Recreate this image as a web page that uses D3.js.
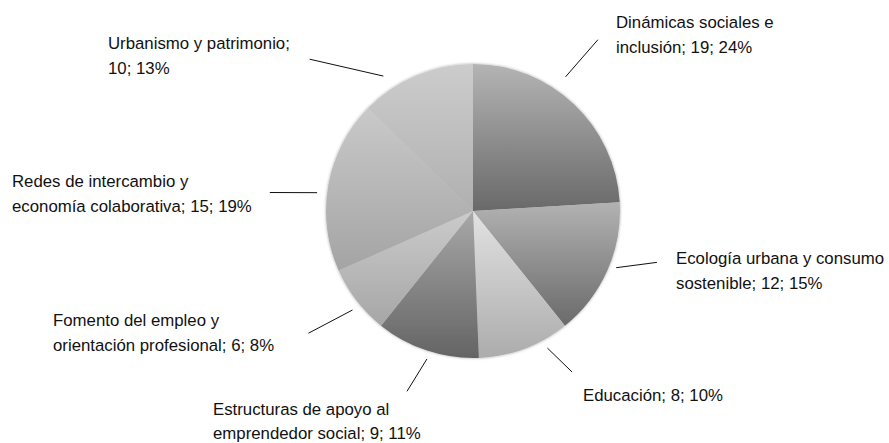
<!DOCTYPE html>
<html>
<head>
<meta charset="utf-8">
<script src="https://cdn.jsdelivr.net/npm/d3@7"></script>
<style>
  body { margin: 0; background: #fff; }
  svg text { font-family: "Liberation Sans", Arial, sans-serif; font-size: 16.8px; fill: #111; }
</style>
</head>
<body>
<div id="chart"></div>
<script>
// data
const categories = [
  'Dinámicas sociales e inclusión',
  'Ecología urbana y consumo sostenible',
  'Educación',
  'Estructuras de apoyo al emprendedor social',
  'Fomento del empleo y orientación profesional',
  'Redes de intercambio y economía colaborativa',
  'Urbanismo y patrimonio'
];
const counts = [19, 12, 8, 9, 6, 15, 10];
const percents = ['24%', '15%', '10%', '11%', '8%', '19%', '13%'];

// label text split into lines (as wrapped in the original)
const labelLines = [
  ['Dinámicas sociales e', 'inclusión; 19; 24%'],
  ['Ecología urbana y consumo', 'sostenible; 12; 15%'],
  ['Educación; 8; 10%'],
  ['Estructuras de apoyo al', 'emprendedor social; 9; 11%'],
  ['Fomento del empleo y', 'orientación profesional; 6; 8%'],
  ['Redes de intercambio y', 'economía colaborativa; 15; 19%'],
  ['Urbanismo y patrimonio;', '10; 13%']
];

// gradient colours per slice (top -> bottom)
const shades = [
  ['#b4b4b4', '#696969'],
  ['#b2b2b2', '#6a6a6a'],
  ['#e2e2e2', '#acacac'],
  ['#a8a8a8', '#646464'],
  ['#cbcbcb', '#a6a6a6'],
  ['#c9c9c9', '#a4a4a4'],
  ['#cccccc', '#b0b0b0']
];

// layout: label positions and leader lines (angle in degrees, radius from centre)
const labelPos = [
  { x: 616, y: 28, gap: 25 }, { x: 676, y: 264, gap: 25 }, { x: 583, y: 401, gap: 25 },
  { x: 213, y: 415, gap: 24 }, { x: 53, y: 326, gap: 25 }, { x: 12, y: 187, gap: 25 },
  { x: 108, y: 49, gap: 25 }
];
const leaders = [
  { a0: 34.6, r0: 163, a1: 36.1, r1: 212 },
  { a0: 111.6, r0: 154, a1: 105.6, r1: 191 },
  { a0: 151.5, r0: 156, a1: 148.4, r1: 189 },
  { a0: 197.3, r0: 155, a1: 200.1, r1: 192 },
  { a0: 230.6, r0: 156, a1: 233.4, r1: 205 },
  { a0: 276.7, r0: 157, a1: 275.2, r1: 204 },
  { a0: 326.4, r0: 162, a1: 312.9, r1: 223 }
];

const width = 889, height = 443;
const cx = 473, cy = 211, radius = 147;

const svg = d3.select('#chart').append('svg')
  .attr('width', width).attr('height', height);

const defs = svg.append('defs');
const shadow = defs.append('filter').attr('id', 'pie-shadow')
  .attr('x', '-10%').attr('y', '-10%').attr('width', '120%').attr('height', '120%');
shadow.append('feGaussianBlur').attr('in', 'SourceAlpha').attr('stdDeviation', 1.5).attr('result', 'b');
shadow.append('feComponentTransfer').attr('in', 'b').attr('result', 'b2')
  .append('feFuncA').attr('type', 'linear').attr('slope', 0.35);
const merge = shadow.append('feMerge');
merge.append('feMergeNode').attr('in', 'b2');
merge.append('feMergeNode').attr('in', 'SourceGraphic');

shades.forEach((s, i) => {
  const g = defs.append('linearGradient').attr('id', `grad-${i}`)
    .attr('x1', '0%').attr('y1', '0%').attr('x2', '0%').attr('y2', '100%');
  g.append('stop').attr('offset', '0%').attr('stop-color', s[0]);
  g.append('stop').attr('offset', '100%').attr('stop-color', s[1]);
});

const pie = d3.pie().sort(null).value(d => d);
const arcs = pie(counts);
const arc = d3.arc().innerRadius(0).outerRadius(radius);

const g = svg.append('g').attr('transform', `translate(${cx},${cy})`);

g.append('g').attr('filter', 'url(#pie-shadow)')
  .selectAll('path')
  .data(arcs)
  .join('path')
  .attr('d', arc)
  .attr('fill', (d, i) => `url(#grad-${i})`);

// leader lines
const rad = deg => deg * Math.PI / 180;
g.selectAll('line.leader')
  .data(leaders)
  .join('line')
  .attr('class', 'leader')
  .attr('x1', d => d3.pointRadial(rad(d.a0), d.r0)[0])
  .attr('y1', d => d3.pointRadial(rad(d.a0), d.r0)[1])
  .attr('x2', d => d3.pointRadial(rad(d.a1), d.r1)[0])
  .attr('y2', d => d3.pointRadial(rad(d.a1), d.r1)[1])
  .attr('stroke', '#111')
  .attr('stroke-width', 1);

// labels
const labels = svg.selectAll('text.lbl')
  .data(labelLines)
  .join('text')
  .attr('class', 'lbl')
  .attr('x', (d, i) => labelPos[i].x)
  .attr('y', (d, i) => labelPos[i].y);

labels.selectAll('tspan')
  .data((d, i) => d.map(t => ({ t, x: labelPos[i].x, gap: labelPos[i].gap })))
  .join('tspan')
  .attr('x', d => d.x)
  .attr('dy', (d, j) => j === 0 ? 0 : d.gap)
  .text(d => d.t);
</script>
</body>
</html>
